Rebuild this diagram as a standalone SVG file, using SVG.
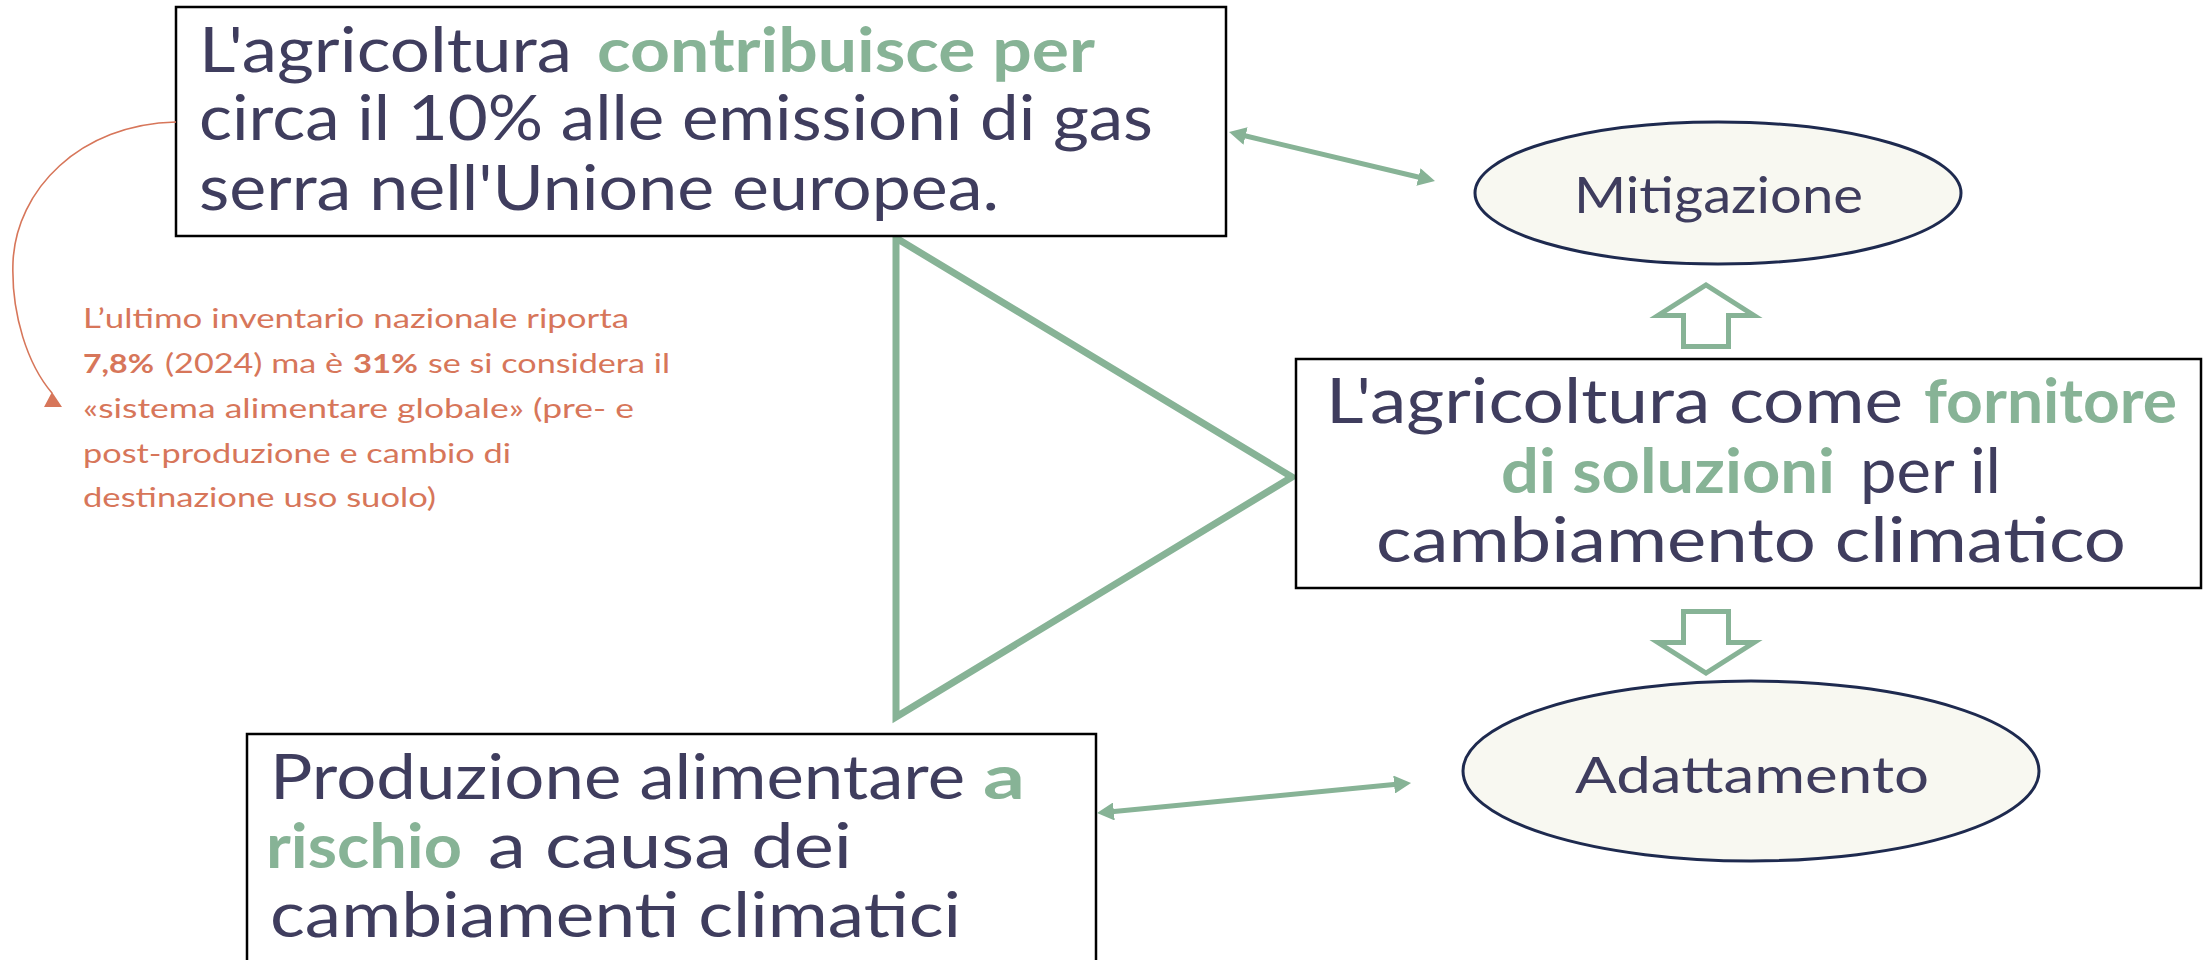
<svg xmlns="http://www.w3.org/2000/svg" width="2205" height="960" viewBox="0 0 2205 960">
<style>
.box{fill:#fff;stroke:#000;stroke-width:2.5}
.ell{fill:#F8F8F1;stroke:#1E2A4F;stroke-width:3}
.t{font-family:Lato,"Liberation Sans",sans-serif;font-size:62px;fill:#3F3D5E}
.b{font-weight:700;fill:#87B396}
.e{font-family:Lato,"Liberation Sans",sans-serif;font-size:51px;fill:#3F3D5E}
.n{font-family:Lato,"Liberation Sans",sans-serif;font-size:27px;fill:#D7765A}
.nb{font-weight:700}
.g{fill:none;stroke:#87B396;stroke-width:5}
.tri{fill:none;stroke:#87B396;stroke-width:7}
.blk{fill:#fff;stroke:#87B396;stroke-width:5}
.or{fill:none;stroke:#D7765A;stroke-width:1.6}
</style>
<defs>
<marker id="ah" markerUnits="userSpaceOnUse" viewBox="0 0 17 18" refX="5" refY="9" markerWidth="17" markerHeight="18" orient="auto-start-reverse">
<path d="M0,0 L17,9 L0,18 z" fill="#87B396"/>
</marker>
</defs>

<g id="triangle">
<polygon class="tri" points="896,238 896,717 1292,477"/>
</g>

<g id="box-emissioni">
<rect class="box" x="176" y="7" width="1050" height="229"/>
<text class="t" x="199" y="72" textLength="373" lengthAdjust="spacingAndGlyphs">L'agricoltura</text>
<text class="t b" x="597" y="72" textLength="498" lengthAdjust="spacingAndGlyphs">contribuisce per</text>
<text class="t" x="199" y="140" textLength="954" lengthAdjust="spacingAndGlyphs">circa il 10% alle emissioni di gas</text>
<text class="t" x="199" y="210" textLength="800" lengthAdjust="spacingAndGlyphs">serra nell'Unione europea.</text>
</g>

<g id="note">
<text class="n" x="83" y="328" textLength="546" lengthAdjust="spacingAndGlyphs">L’ultimo inventario nazionale riporta</text>
<text class="n nb" x="83" y="373" textLength="71" lengthAdjust="spacingAndGlyphs">7,8%</text>
<text class="n" x="165" y="373" textLength="178" lengthAdjust="spacingAndGlyphs">(2024) ma è</text>
<text class="n nb" x="353" y="373" textLength="65" lengthAdjust="spacingAndGlyphs">31%</text>
<text class="n" x="428" y="373" textLength="242" lengthAdjust="spacingAndGlyphs">se si considera il</text>
<text class="n" x="83" y="418" textLength="551" lengthAdjust="spacingAndGlyphs">«sistema alimentare globale» (pre- e</text>
<text class="n" x="83" y="463" textLength="428" lengthAdjust="spacingAndGlyphs">post-produzione e cambio di</text>
<text class="n" x="83" y="507" textLength="353" lengthAdjust="spacingAndGlyphs">destinazione uso suolo)</text>
</g>

<g id="mitigazione">
<ellipse class="ell" cx="1718" cy="193" rx="243" ry="71"/>
<text class="e" x="1574" y="213" textLength="289" lengthAdjust="spacingAndGlyphs">Mitigazione</text>
</g>

<g id="box-fornitore">
<rect class="box" x="1296" y="359" width="905" height="229"/>
<text class="t" x="1326" y="423" textLength="577" lengthAdjust="spacingAndGlyphs">L'agricoltura come</text>
<text class="t b" x="1924" y="423" textLength="253" lengthAdjust="spacingAndGlyphs">fornitore</text>
<text class="t b" x="1501" y="493" textLength="334" lengthAdjust="spacingAndGlyphs">di soluzioni</text>
<text class="t" x="1860" y="493" textLength="141" lengthAdjust="spacingAndGlyphs">per il</text>
<text class="t" x="1376" y="562" textLength="750" lengthAdjust="spacingAndGlyphs">cambiamento climatico</text>
</g>

<g id="adattamento">
<ellipse class="ell" cx="1751" cy="771" rx="288" ry="90"/>
<text class="e" x="1575" y="793" textLength="354" lengthAdjust="spacingAndGlyphs">Adattamento</text>
</g>

<g id="box-rischio">
<rect class="box" x="247" y="734" width="849" height="240"/>
<text class="t" x="270" y="799" textLength="695" lengthAdjust="spacingAndGlyphs">Produzione alimentare</text>
<text class="t b" x="983" y="799" textLength="42" lengthAdjust="spacingAndGlyphs">a</text>
<text class="t b" x="266" y="868" textLength="196" lengthAdjust="spacingAndGlyphs">rischio</text>
<text class="t" x="488" y="868" textLength="364" lengthAdjust="spacingAndGlyphs">a causa dei</text>
<text class="t" x="270" y="937" textLength="691" lengthAdjust="spacingAndGlyphs">cambiamenti climatici</text>
</g>

<g id="connectors">
<line class="g" x1="1240.7" y1="134.8" x2="1423.3" y2="178.2" marker-start="url(#ah)" marker-end="url(#ah)"/>
<line class="g" x1="1108.9" y1="811.9" x2="1399.1" y2="784.1" marker-start="url(#ah)" marker-end="url(#ah)"/>
<path class="blk" d="M1683.5,346.5 H1728.5 V315.5 H1754 L1706,285 L1658,315.5 H1683.5 Z"/>
<path class="blk" d="M1683.5,611.5 H1728.5 V642.5 H1754 L1706,673 L1658,642.5 H1683.5 Z"/>
<path class="or" d="M176,122 C80,124 16,190 13,262 C11,315 28,365 52,393"/>
<polygon points="52,392 44,407 62,407" fill="#D7765A"/>
</g>
</svg>
